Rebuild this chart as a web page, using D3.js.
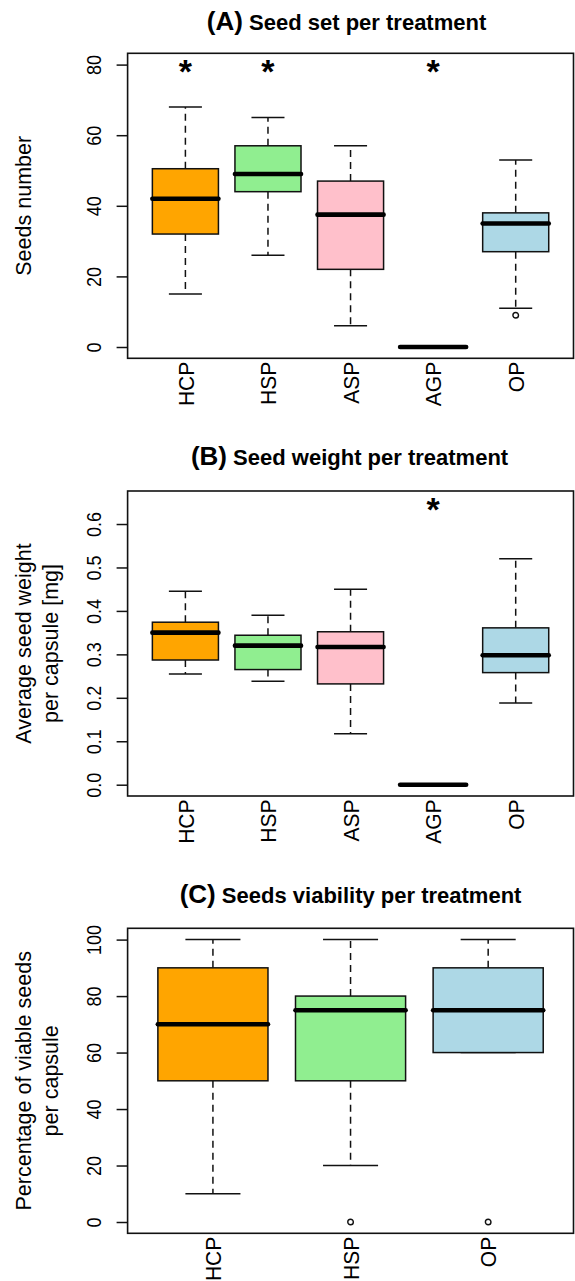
<!DOCTYPE html>
<html>
<head>
<meta charset="utf-8">
<script src="https://cdn.jsdelivr.net/npm/d3@7"></script>
<style>
  body { margin: 0; background: #fff; }
  text { font-family: "Liberation Sans", Arial, Helvetica, sans-serif; fill: #000; }
</style>
</head>
<body>
<div id="chart"></div>
<script>
// Treatments shown in each panel
const treatments = ["HCP", "HSP", "ASP", "AGP", "OP"];
const viabilityTreatments = ["HCP", "HSP", "OP"];

// Box summaries, one row per treatment: [lower whisker, Q1, median, Q3, upper whisker]
const seedSetStats = [
  [15, 32, 42, 50.5, 68],
  [26, 44, 49, 57, 65],
  [6, 22, 37.5, 47, 57],
  [0, 0, 0, 0, 0],
  [11, 27, 35, 38, 53]
];
const seedSetOutliers = [[], [], [], [], [9]];
const seedSetStars = ["HCP", "HSP", "AGP"];
const seedSetStarLevel = 80;
const seedSetTicks = [0, 20, 40, 60, 80];

const seedWeightStats = [
  [0.255, 0.287, 0.35, 0.374, 0.445],
  [0.238, 0.265, 0.32, 0.344, 0.39],
  [0.117, 0.232, 0.317, 0.352, 0.45],
  [0, 0, 0, 0, 0],
  [0.188, 0.258, 0.298, 0.361, 0.52]
];
const seedWeightOutliers = [[], [], [], [], []];
const seedWeightStars = ["AGP"];
const seedWeightStarLevel = 0.65;
const seedWeightTicks = [0, 0.1, 0.2, 0.3, 0.4, 0.5, 0.6];

const viabilityStats = [
  [10, 50, 70, 90, 100],
  [20, 50, 75, 80, 100],
  [60, 60, 75, 90, 100]
];
const viabilityOutliers = [[], [0], [0]];
const viabilityTicks = [0, 20, 40, 60, 80, 100];

// box fill per treatment
const color = d3.scaleOrdinal()
  .domain(["HCP", "HSP", "ASP", "AGP", "OP"])
  .range(["#ffa500", "#90ee90", "#ffc0cb", "#ffff00", "#add8e6"]);

const width = 575, height = 1281;
const left = 127.6, right = 573.5;

const svg = d3.select("#chart")
  .append("svg")
  .attr("width", width)
  .attr("height", height)
  .style("display", "block");

function drawPanel(p) {
  const n = p.cats.length;
  const g = svg.append("g");

  // R-style limits: 4% padding on both axes
  const x = d3.scaleLinear()
    .domain([0.5 - 0.04 * n, n + 0.5 + 0.04 * n])
    .range([left, right]);

  const allVals = p.stats.flat().concat(p.outliers.flat());
  if (p.stars.length) allVals.push(p.starLevel);
  const lo = d3.min(allVals), hi = d3.max(allVals);
  const pad = (hi - lo) * 0.04;
  const y = d3.scaleLinear()
    .domain([lo - pad, hi + pad])
    .range([p.bottom, p.top]);

  const boxW = (x(1.8) - x(1)) / 2;   // boxwex 0.8 -> half width
  const stapleW = boxW / 2;

  const boxes = g.selectAll(".box")
    .data(p.cats.map((c, i) => ({cat: c, pos: i + 1, s: p.stats[i], out: p.outliers[i]})))
    .enter()
    .append("g")
    .attr("transform", d => `translate(${x(d.pos)},0)`);

  // whiskers (dashed)
  boxes.append("line")
    .attr("y1", d => y(d.s[3])).attr("y2", d => y(d.s[4]))
    .attr("stroke", "#111").attr("stroke-width", 1.5)
    .attr("stroke-dasharray", "7,5");
  boxes.append("line")
    .attr("y1", d => y(d.s[1])).attr("y2", d => y(d.s[0]))
    .attr("stroke", "#111").attr("stroke-width", 1.5)
    .attr("stroke-dasharray", "7,5");

  // staples
  [0, 4].forEach(k => {
    boxes.append("line")
      .attr("x1", -stapleW).attr("x2", stapleW)
      .attr("y1", d => y(d.s[k])).attr("y2", d => y(d.s[k]))
      .attr("stroke", "#111").attr("stroke-width", 1.5);
  });

  // box
  boxes.append("rect")
    .attr("x", -boxW)
    .attr("width", boxW * 2)
    .attr("y", d => y(d.s[3]))
    .attr("height", d => y(d.s[1]) - y(d.s[3]))
    .attr("fill", d => color(d.cat))
    .attr("stroke", "#111")
    .attr("stroke-width", 1.5);

  // median
  boxes.append("line")
    .attr("x1", -boxW).attr("x2", boxW)
    .attr("y1", d => y(d.s[2])).attr("y2", d => y(d.s[2]))
    .attr("stroke", "#000").attr("stroke-width", 4.6)
    .attr("stroke-linecap", "round");

  // outliers
  boxes.selectAll(".out")
    .data(d => d.out)
    .enter()
    .append("circle")
    .attr("cy", v => y(v))
    .attr("r", 2.8)
    .attr("fill", "none")
    .attr("stroke", "#111")
    .attr("stroke-width", 1.4);

  // significance stars
  g.selectAll(".star")
    .data(p.stars)
    .enter()
    .append("text")
    .attr("x", c => x(p.cats.indexOf(c) + 1))
    .attr("y", y(p.starLevel) + 18.5)
    .attr("text-anchor", "middle")
    .style("font-size", "34px")
    .style("font-weight", "bold")
    .text("*");

  // frame
  g.append("rect")
    .attr("x", left).attr("y", p.top)
    .attr("width", right - left).attr("height", p.bottom - p.top)
    .attr("fill", "none")
    .attr("stroke", "#111")
    .attr("stroke-width", 1.6);

  // y axis
  const yAxis = g.append("g")
    .attr("transform", `translate(${left},0)`)
    .call(d3.axisLeft(y).tickValues(p.ticks).tickFormat(p.format).tickSize(11));
  yAxis.select(".domain").remove();
  yAxis.selectAll(".tick line").attr("stroke", "#111").attr("stroke-width", 1.5);
  yAxis.selectAll(".tick text")
    .attr("x", null).attr("dy", null)
    .attr("transform", "translate(-26.5,0) rotate(-90) scale(1,1.12)")
    .attr("text-anchor", "middle")
    .style("font-size", "18px")
    .style("font-family", "'Liberation Sans', Arial, sans-serif")
    .attr("fill", "#000");

  // category labels, rotated
  g.selectAll(".xlab")
    .data(p.cats)
    .enter()
    .append("text")
    .attr("transform", (c, i) => `translate(${x(i + 1)},${p.bottom + 3.5}) rotate(-90) scale(1,1.08)`)
    .attr("dy", "0.36em")
    .attr("text-anchor", "end")
    .style("font-size", "21px")
    .text(c => c);

  // y axis title
  const midY = (p.top + p.bottom) / 2;
  p.ylab.forEach((line, i) => {
    g.append("text")
      .attr("transform", `translate(${30.5 + i * 27.5},${midY}) rotate(-90)`)
      .attr("text-anchor", "middle")
      .style("font-size", "21.5px")
      .text(line);
  });

  // panel title
  const t = g.append("text")
    .attr("x", (left + right) / 2 + p.titleShift)
    .attr("y", p.titleY)
    .attr("text-anchor", "middle")
    .style("font-weight", "bold");
  t.append("tspan").style("font-size", "26px").text(p.letter);
  t.append("tspan").style("font-size", "22px").text(" " + p.title);
}

drawPanel({
  cats: treatments, stats: seedSetStats, outliers: seedSetOutliers,
  stars: seedSetStars, starLevel: seedSetStarLevel,
  ticks: seedSetTicks, format: d3.format("d"),
  top: 53.3, bottom: 358.3, titleY: 30, titleShift: -4,
  letter: "(A)", title: "Seed set per treatment",
  ylab: ["Seeds number"]
});

drawPanel({
  cats: treatments, stats: seedWeightStats, outliers: seedWeightOutliers,
  stars: seedWeightStars, starLevel: seedWeightStarLevel,
  ticks: seedWeightTicks, format: d3.format(".1f"),
  top: 491, bottom: 796, titleY: 465, titleShift: -1,
  letter: "(B)", title: "Seed weight per treatment",
  ylab: ["Average seed weight", "per capsule [mg]"]
});

drawPanel({
  cats: viabilityTreatments, stats: viabilityStats, outliers: viabilityOutliers,
  stars: [], starLevel: null,
  ticks: viabilityTicks, format: d3.format("d"),
  top: 928.3, bottom: 1233.3, titleY: 903, titleShift: 0,
  letter: "(C)", title: "Seeds viability per treatment",
  ylab: ["Percentage of viable seeds", "per capsule"]
});
</script>
</body>
</html>
